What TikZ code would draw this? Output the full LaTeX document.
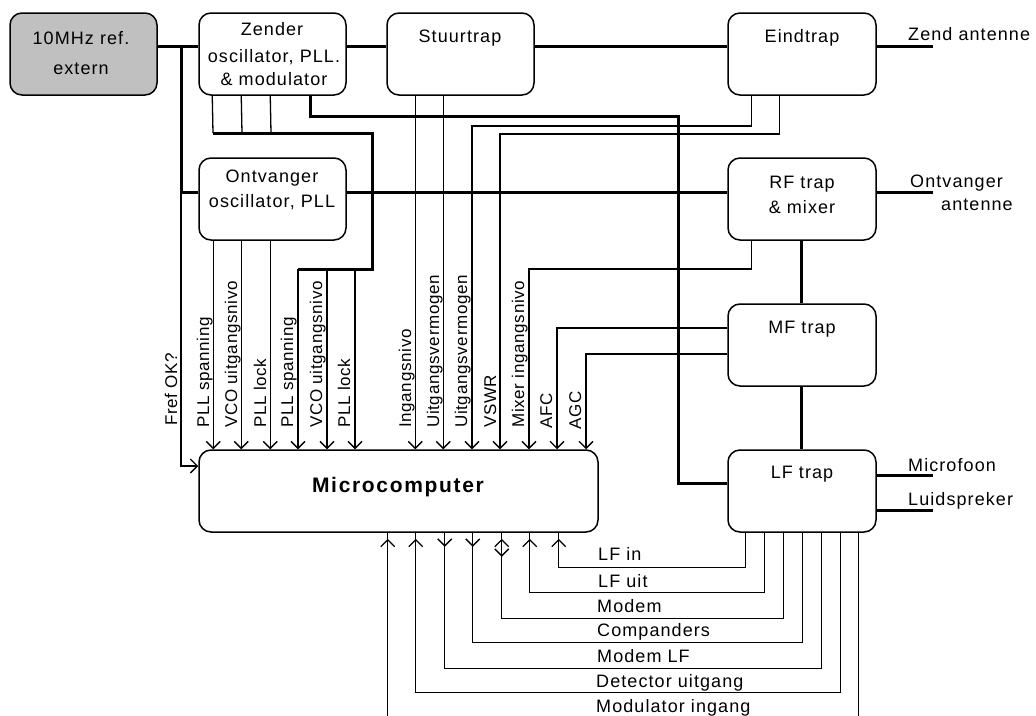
\documentclass[tikz,border=0pt]{standalone}
\usepackage{fontspec}
\setmainfont{Liberation Sans}
\newfontfamily\hfont[LetterSpace=6]{Liberation Sans}
\newfontfamily\vfont[LetterSpace=4]{Liberation Sans}
\newfontfamily\bfont[LetterSpace=8]{Liberation Sans}
\usetikzlibrary{arrows.meta,decorations.markings,calc}
\definecolor{refgray}{RGB}{192,192,192}
\tikzset{
  box/.style={draw, line width=1.5pt, rounded corners=12pt, minimum width=147pt, minimum height=82pt, inner sep=0pt},
  thk/.style={line width=3pt},
  thn/.style={line width=1.3pt},
  barb/.tip={Straight Barb[length=7pt,width=14pt]},
  arr/.style={-barb},
  txt/.style={font=\hfont\fontsize{18}{20}\selectfont, inner sep=0pt, anchor=base},
  ltxt/.style={font=\hfont\fontsize{18}{20}\selectfont, inner sep=0pt, anchor=base west},
  vtxt/.style={font=\vfont\fontsize{17}{19}\selectfont, inner sep=0pt, rotate=90, anchor=base west},
  upmk/.style={postaction={decorate}, decoration={markings, mark=at position 6pt with {\arrowreversed{barb}}}},
  dnmk/.style={postaction={decorate}, decoration={markings, mark=at position 14pt with {\arrow{barb}}}},
  bimk/.style={postaction={decorate}, decoration={markings, mark=at position 6pt with {\arrowreversed{barb}}, mark=at position 24pt with {\arrow{barb}}}},
}
\begin{document}
\begin{tikzpicture}[x=1pt,y=-1pt]
\useasboundingbox (0,0) rectangle (1036,715);
% boxes
\node[box, fill=refgray] (ref) at (83.5,54) {};
\node[box] (zender) at (272.5,54) {};
\node[box] (stuur) at (460.5,54) {};
\node[box, minimum width=148pt] (eind) at (802,54) {};
\node[box] (ontv) at (272.5,199) {};
\node[box, minimum width=148pt] (rf) at (802,199) {};
\node[box, minimum width=148pt] (mf) at (802,345) {};
\node[box, minimum width=148pt] (lf) at (802,491) {};
\node[box, minimum width=399pt] (micro) at (398.5,491) {};
% box texts
\node[txt] (tr1) at (81,44) {10MHz ref.};
\node[txt] (tr2) at (81,74) {extern};
\node[txt] (tz1) at (272,35) {Zender};
\node[txt] (tz2) at (274,62) {oscillator, PLL.};
\node[txt] (tz3) at (274,85) {\& modulator};
\node[txt] (ts) at (460,42) {Stuurtrap};
\node[txt] (te) at (802,42) {Eindtrap};
\node[txt] (to1) at (272,182) {Ontvanger};
\node[txt] (to2) at (272,207) {oscillator, PLL};
\node[txt] (trf1) at (802,188) {RF trap};
\node[txt] (trf2) at (802,213) {\& mixer};
\node[txt] (tmf) at (802,333) {MF trap};
\node[txt] (tlf) at (802,478) {LF trap};
\node[txt, font=\bfont\bfseries\fontsize{21}{23}\selectfont] (tmc) at (398,492) {Microcomputer};
% outside labels
\coordinate (ant1) at (933,46);
\coordinate (ant2) at (933,192);
\coordinate (mic) at (933,475);
\coordinate (spk) at (933,510);
\node[ltxt] (lza) at (908,40) {Zend antenne};
\node[ltxt] (loa1) at (910,187) {Ontvanger};
\node[ltxt] (loa2) at (941,210) {antenne};
\node[ltxt] (lmic) at (908,471) {Microfoon};
\node[ltxt] (lspk) at (908,505) {Luidspreker};
% thick main chain
\draw[thk] ([yshift=8]ref.east) -- ([yshift=8]zender.west);
\draw[thk] ([yshift=8]zender.east) -- ([yshift=8]stuur.west);
\draw[thk] ([yshift=8]stuur.east) -- ([yshift=8]eind.west);
\draw[thk] ([yshift=8]eind.east) -- (ant1);
\coordinate (j1) at (181,46);
\draw[thk] (j1) |- ([yshift=7]ontv.west);
\draw[thn,arr] ([yshift=7]ontv.west -| j1) |- ([yshift=25]micro.west);
\draw[thk] ([yshift=7]ontv.east) -- ([yshift=7]rf.west);
\draw[thk] ([yshift=7]rf.east) -- (ant2);
\draw[thk] ([xshift=-1]rf.south) -- ([xshift=-1]mf.north);
\draw[thk] ([xshift=-1]mf.south) -- ([xshift=-1]lf.north);
\draw[thk] ([yshift=16]lf.east) -- (mic);
\draw[thk] ([yshift=-19]lf.east) -- (spk);
% zender -> LF trap thick
\coordinate (k1) at (678,116);
\draw[thk] ([xshift=112]zender.south west) |- (k1) |- ([yshift=8]lf.west);
% zender bottom bus
\coordinate (b1) at (213,133);
\coordinate (b2) at (372,133);
\coordinate (b3) at (372,269);
\coordinate (b4) at (298,269);
\draw[thn] ([xshift=14]zender.south west) -- (b1);
\draw[thn] ([xshift=43]zender.south west) -- ([xshift=29]b1);
\draw[thn] ([xshift=72]zender.south west) -- ([xshift=58]b1);
\draw[thk] (b1) -- (b2) -- (b3) -- (b4);
\draw[thn,arr] (b4) -- (b4 |- micro.north);
\draw[thn,arr] ([xshift=29]b4) coordinate (b5) -- (b5 |- micro.north);
\draw[thn,arr] ([xshift=57]b4) coordinate (b6) -- (b6 |- micro.north);
% ontvanger bottom
\draw[thn,arr] ([xshift=15]ontv.south west) coordinate (o1) -- (o1 |- micro.north);
\draw[thn,arr] ([xshift=43]ontv.south west) coordinate (o2) -- (o2 |- micro.north);
\draw[thn,arr] ([xshift=72]ontv.south west) coordinate (o3) -- (o3 |- micro.north);
% stuurtrap bottom
\draw[thn,arr] ([xshift=29]stuur.south west) coordinate (s1) -- (s1 |- micro.north);
\draw[thn,arr] ([xshift=57]stuur.south west) coordinate (s2) -- (s2 |- micro.north);
% eindtrap bottom
\coordinate (e1) at (472,126);
\coordinate (e2) at (500,134);
\draw[thn,arr] ([xshift=24]eind.south west) |- (e1) -- (e1 |- micro.north);
\draw[thn,arr] ([xshift=52]eind.south west) |- (e2) -- (e2 |- micro.north);
% rf bottom
\coordinate (r1) at (529,269);
\draw[thn,arr] ([xshift=24]rf.south west) |- (r1) -- (r1 |- micro.north);
% mf left
\coordinate (f1) at (557,328);
\coordinate (f2) at (586,354);
\draw[thn,arr] (f1 -| mf.west) -- (f1) -- (f1 |- micro.north);
\draw[thn,arr] (f2 -| mf.west) -- (f2) -- (f2 |- micro.north);
% vertical labels
\node[vtxt] (v0) at (177,426) {Fref OK?};
\node[vtxt] (v1) at (209,428) {PLL spanning};
\node[vtxt] (v2) at (237,428) {VCO uitgangsnivo};
\node[vtxt] (v3) at (266,428) {PLL lock};
\node[vtxt] (v4) at (293,428) {PLL spanning};
\node[vtxt] (v5) at (322,428) {VCO uitgangsnivo};
\node[vtxt] (v6) at (350,428) {PLL lock};
\node[vtxt] (v7) at (411,428) {Ingangsnivo};
\node[vtxt] (v8) at (439,428) {Uitgangsvermogen};
\node[vtxt] (v9) at (467,428) {Uitgangsvermogen};
\node[vtxt] (v10) at (496,428) {VSWR};
\node[vtxt] (v11) at (524,428) {Mixer ingangsnivo};
\node[vtxt] (v12) at (552,429) {AFC};
\node[vtxt] (v13) at (581,430) {AGC};
% bottom loops micro <-> LF trap
\draw[thn,upmk] ([xshift=-40]micro.south east) -- ++(0,35) -| ([xshift=18]lf.south west);
\draw[thn,upmk] ([xshift=-69]micro.south east) -- ++(0,60) -| ([xshift=37]lf.south west);
\draw[thn,bimk] ([xshift=-97]micro.south east) -- ++(0,86) -| ([xshift=56]lf.south west);
\draw[thn,dnmk] ([xshift=-126]micro.south east) -- ++(0,110) -| ([xshift=75]lf.south west);
\draw[thn,dnmk] ([xshift=-154]micro.south east) -- ++(0,136) -| ([xshift=94]lf.south west);
\draw[thn,upmk] ([xshift=-183]micro.south east) -- ++(0,160) -| ([xshift=113]lf.south west);
\draw[thn,upmk] ([xshift=-211]micro.south east) -- ++(0,185);
\draw[thn] ([xshift=131]lf.south west) -- ++(0,185);
% bottom labels
\node[ltxt] (w1) at (598,560) {LF in};
\node[ltxt] (w2) at (598,587) {LF uit};
\node[ltxt] (w3) at (597,612) {Modem};
\node[ltxt] (w4) at (597,636) {Companders};
\node[ltxt] (w5) at (597,662) {Modem LF};
\node[ltxt] (w6) at (596,687) {Detector uitgang};
\node[ltxt] (w7) at (596,712) {Modulator ingang};
\end{tikzpicture}
\end{document}
